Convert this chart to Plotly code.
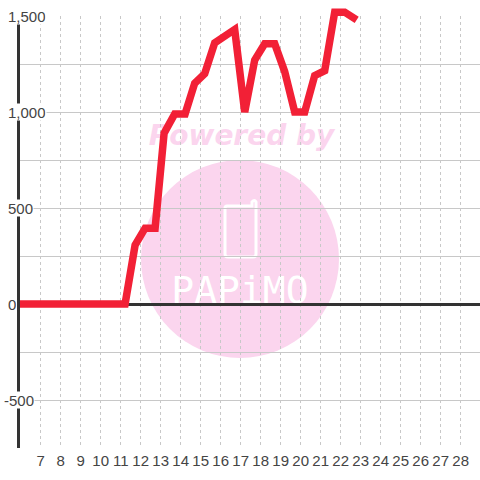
import plotly.graph_objects as go

hours = [5.85, 6.2, 6.7, 7.2, 7.7, 8.2, 8.7, 9.2, 9.7, 10.2, 10.7, 11.22, 11.72, 12.22, 12.72,
         13.17, 13.7, 14.22, 14.7, 15.2, 15.7, 16.2, 16.7, 17.2, 17.7, 18.2, 18.7,
         19.2, 19.7, 20.2, 20.7, 21.2, 21.7, 22.2, 22.8]
values = [0, 0, 0, 0, 0, 0, 0, 0, 0, 0, 0, 0, 307, 395, 395,
          890, 990, 990, 1150, 1200, 1360, 1395, 1430, 1000, 1270, 1355, 1355,
          1210, 1000, 1000, 1190, 1215, 1520, 1520, 1480]
x_ticks = list(range(7, 29))
y_grid = [-750, -500, -250, 0, 250, 500, 750, 1000, 1250, 1500]
y_labels = {1500: "1,500", 1000: "1,000", 500: "500", 0: "0", -500: "-500"}

RED = "#f22036"
DARK = "#333333"
TEXT = "#444444"
PINK = "#fbd5ee"
GRID = "#c8c8c8"
W, H = 480, 480
L, R, T, B = 20, 0, 0, 32
GRID_TOP = 16
X_RANGE = [5.965, 28.965]
PLOT_H = H - T - B
Y_TOP = 1500 + GRID_TOP * 2250 / (PLOT_H - GRID_TOP)


def px(v):
    return (v - L) / (W - L - R)


def py(v):
    return (H - B - v) / PLOT_H


fig = go.Figure()
# Empty trace keeps the grid subplot alive; the line lives on a slightly taller overlay so it can rise past 1,500.
fig.add_trace(go.Scatter(x=[], y=[], xaxis="x", yaxis="y", hoverinfo="skip"))
fig.add_trace(go.Scatter(x=hours, y=values, mode="lines", cliponaxis=False, xaxis="x2", yaxis="y2",
                         line=dict(color=RED, width=7.5), hoverinfo="skip"))

shapes = [
    dict(type="circle", xref="paper", yref="paper", layer="below",
         x0=px(141), x1=px(339), y0=py(358), y1=py(160), fillcolor=PINK, line_width=0),
    dict(type="rect", xref="paper", yref="paper", layer="below",
         x0=px(100), x1=px(383), y0=py(150), y1=py(116), fillcolor="rgba(0,0,0,0)", line_width=0,
         label=dict(text="<b><i>Powered by</i></b>", textposition="middle center",
                    font=dict(family="DejaVu Sans", size=28, color=PINK))),
    dict(type="rect", xref="paper", yref="paper", layer="below",
         x0=px(140), x1=px(340), y0=py(307), y1=py(267), fillcolor="rgba(0,0,0,0)", line_width=0,
         label=dict(text="PAPiMO", textposition="middle center",
                    font=dict(family="DejaVu Sans Mono", size=38, color="white"))),
    dict(type="path", xref="paper", yref="paper", layer="below",
         path=(f"M {px(227)} {py(206)} L {px(252)} {py(206)} L {px(252)} {py(202)} "
               f"Q {px(254.5)} {py(199)} {px(256)} {py(202)} L {px(256)} {py(254)} "
               f"Q {px(256)} {py(257)} {px(253)} {py(257)} L {px(228)} {py(257)} "
               f"Q {px(225)} {py(257)} {px(225)} {py(254)} L {px(225)} {py(208)} "
               f"Q {px(225)} {py(206)} {px(227)} {py(206)} Z"),
         fillcolor="rgba(0,0,0,0)", line=dict(color="white", width=3)),
]

annotations = []
for val, text in y_labels.items():
    annotations.append(dict(
        x=px(3 if val < 0 else 7), xref="paper", xanchor="left", y=val, yref="y", yanchor="middle",
        text=text, showarrow=False, bgcolor="white", borderpad=0, height=16,
        font=dict(family="Liberation Sans", size=15, color=TEXT)))

fig.update_layout(
    width=W, height=H, autosize=False,
    margin=dict(l=L, r=R, t=T, b=B, pad=0),
    paper_bgcolor="white", plot_bgcolor="rgba(0,0,0,0)",
    showlegend=False, shapes=shapes, annotations=annotations,
    xaxis=dict(range=X_RANGE, tickmode="array", tickvals=x_ticks, domain=[0, 1], anchor="y",
               showgrid=True, gridcolor=GRID, griddash="3px,3px", gridwidth=1,
               zeroline=False, showline=False, ticks="", ticklabelstandoff=2,
               tickfont=dict(family="Liberation Sans", size=15, color=TEXT)),
    yaxis=dict(range=[-750, 1500], tickmode="array", tickvals=y_grid, showticklabels=False,
               domain=[0, (PLOT_H - GRID_TOP) / PLOT_H], anchor="x",
               showgrid=True, gridcolor=GRID, gridwidth=1,
               zeroline=True, zerolinecolor=DARK, zerolinewidth=3,
               showline=True, linecolor=DARK, linewidth=3, ticks=""),
    xaxis2=dict(range=X_RANGE, domain=[0, 1], anchor="y2", visible=False, showgrid=False, zeroline=False),
    yaxis2=dict(range=[-750, Y_TOP], domain=[0, 1], anchor="x2", visible=False, showgrid=False, zeroline=False),
)
fig.write_html("out.html", config=dict(displayModeBar=False),
               post_script="document.body.style.margin='0';document.documentElement.style.overflow='hidden';")
